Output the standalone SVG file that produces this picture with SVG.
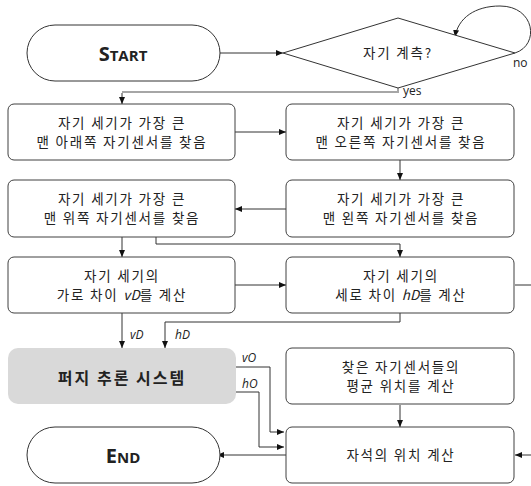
<svg xmlns="http://www.w3.org/2000/svg" width="531" height="486" viewBox="0 0 531 486">
<style>
.box{fill:#fff;stroke:#404040;stroke-width:1}
.term{fill:#fff;stroke:#333;stroke-width:1}
.t{font-family:"Noto Sans CJK KR","Noto Sans",sans-serif;font-size:13.5px;letter-spacing:1.8px;fill:#222;text-anchor:middle}
.fz{font-family:"Noto Sans CJK KR","Noto Sans",sans-serif;font-size:16px;font-weight:bold;letter-spacing:2px;fill:#222;text-anchor:middle}
.v{font-style:italic;letter-spacing:0}
.lbl{font-family:"Open Sans","Noto Sans",sans-serif;font-size:12px;fill:#222}
.it{font-style:italic}
.big{font-family:"Open Sans","Noto Sans",sans-serif;font-weight:bold;fill:#222;text-anchor:middle}
.c{fill:none;stroke:#333;stroke-width:1}
.cg{fill:none;stroke:#a6a6a6;stroke-width:2}
</style>
<defs>
<marker id="a" markerWidth="8" markerHeight="8" refX="7" refY="4" orient="auto" markerUnits="userSpaceOnUse">
<path d="M0,1 L7,4 L0,7 Z" fill="#111"/>
</marker>
</defs>
<g id="connectors">
<path class="c" d="M220,53 H283" marker-end="url(#a)"/>
<path class="c" d="M515,53 C540,45 535,6 500,6 C475,6 458,18 455,37" marker-end="url(#a)"/>
<path class="cg" d="M398,88 V92 H122"/>
<path class="c" d="M122,93 V104" marker-end="url(#a)"/>
<path class="c" d="M235,132 H286" marker-end="url(#a)"/>
<path class="c" d="M400,160 V180" marker-end="url(#a)"/>
<path class="c" d="M286,209 H235" marker-end="url(#a)"/>
<path class="c" d="M122,237 V257" marker-end="url(#a)"/>
<path class="c" d="M156,237 V244 H400 V257" marker-end="url(#a)"/>
<path class="c" d="M235,285 H286" marker-end="url(#a)"/>
<path class="c" d="M515,285 H545 V455 H515" marker-end="url(#a)"/>
<path class="c" d="M122,313 V348" marker-end="url(#a)"/>
<path class="c" d="M400,313 V322 H165 V348" marker-end="url(#a)"/>
<path class="c" d="M236,367 H270 V432 H284" marker-end="url(#a)"/>
<path class="c" d="M236,392 H259 V447 H284" marker-end="url(#a)"/>
<path class="c" d="M400,405 V427" marker-end="url(#a)"/>
<path class="c" d="M286,455 H217" marker-end="url(#a)"/>
<text class="lbl" x="403" y="95">yes</text>
<text class="lbl" x="513" y="67">no</text>
<text class="lbl it" x="130" y="339">vD</text>
<text class="lbl it" x="175" y="339">hD</text>
<text class="lbl it" x="242" y="362">vO</text>
<text class="lbl it" x="242" y="388">hO</text>
</g>
<g id="start">
<rect class="term" x="27" y="25" width="193" height="56" rx="28"/>
<text class="big" x="123" y="61"><tspan font-size="20">S</tspan><tspan font-size="15">TART</tspan></text>
</g>
<g id="decision">
<polygon class="term" points="283,53 398,18 515,53 398,88"/>
<text class="t" x="398" y="58">자기 계측?</text>
</g>
<g id="bottom">
<rect class="box" x="8" y="104" width="227" height="56" rx="6"/>
<text class="t" x="122" y="128">자기 세기가 가장 큰</text>
<text class="t" x="122" y="147">맨 아래쪽 자기센서를 찾음</text>
</g>
<g id="right">
<rect class="box" x="286" y="104" width="228" height="56" rx="6"/>
<text class="t" x="401" y="128">자기 세기가 가장 큰</text>
<text class="t" x="401" y="147">맨 오른쪽 자기센서를 찾음</text>
</g>
<g id="top">
<rect class="box" x="8" y="180" width="227" height="57" rx="6"/>
<text class="t" x="122" y="204">자기 세기가 가장 큰</text>
<text class="t" x="122" y="223">맨 위쪽 자기센서를 찾음</text>
</g>
<g id="left">
<rect class="box" x="286" y="180" width="228" height="57" rx="6"/>
<text class="t" x="401" y="204">자기 세기가 가장 큰</text>
<text class="t" x="401" y="223">맨 왼쪽 자기센서를 찾음</text>
</g>
<g id="vd">
<rect class="box" x="8" y="257" width="227" height="56" rx="6"/>
<text class="t" x="122" y="281">자기 세기의</text>
<text class="t" x="122" y="300">가로 차이 <tspan class="v">vD</tspan>를 계산</text>
</g>
<g id="hd">
<rect class="box" x="286" y="257" width="228" height="56" rx="6"/>
<text class="t" x="401" y="281">자기 세기의</text>
<text class="t" x="401" y="300">세로 차이 <tspan class="v">hD</tspan>를 계산</text>
</g>
<g id="fuzzy">
<rect x="8" y="348" width="228" height="56" rx="10" fill="#d9d9d9"/>
<text class="fz" x="122" y="384">퍼지 추론 시스템</text>
</g>
<g id="avg">
<rect class="box" x="286" y="348" width="228" height="56" rx="6"/>
<text class="t" x="401" y="372">찾은 자기센서들의</text>
<text class="t" x="401" y="391">평균 위치를 계산</text>
</g>
<g id="end">
<rect class="term" x="27" y="427" width="193" height="56" rx="28"/>
<text class="big" x="123" y="463"><tspan font-size="20">E</tspan><tspan font-size="15">ND</tspan></text>
</g>
<g id="magnet">
<rect class="box" x="286" y="427" width="228" height="56" rx="6"/>
<text class="t" x="401" y="460">자석의 위치 계산</text>
</g>
</svg>
